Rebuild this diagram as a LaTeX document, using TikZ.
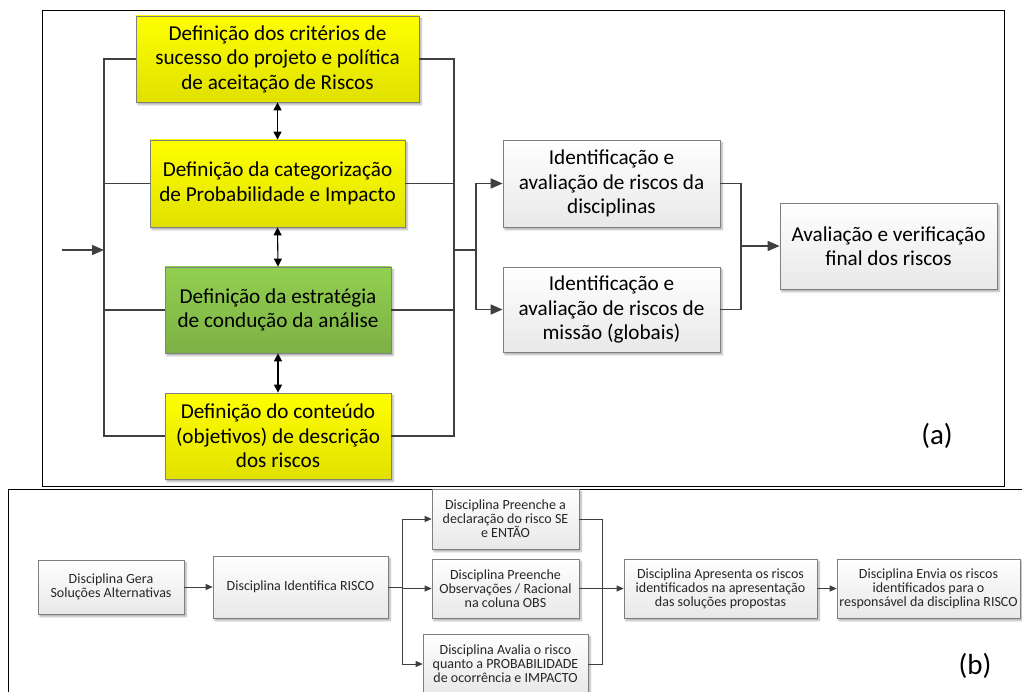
\documentclass[tikz,border=0pt]{standalone}
\usepackage{fontspec}
\setmainfont{Carlito}
\usetikzlibrary{arrows.meta,shadows.blur}

\definecolor{wiregray}{HTML}{404040}
\definecolor{boxline}{HTML}{7F7F7F}
\definecolor{leafgreen}{HTML}{92D050}

\tikzset{
  basebox/.style={draw=boxline, line width=0.8pt, align=center, inner sep=0pt,
    blur shadow={shadow xshift=2pt, shadow yshift=-2.5pt, shadow blur steps=4, shadow opacity=35}},
  ybox/.style={basebox, top color=yellow, bottom color=yellow!88!black,
    font=\fontsize{21.2}{24.5}\selectfont},
  gbox/.style={basebox, top color=leafgreen, bottom color=leafgreen!85!black,
    font=\fontsize{21.2}{24.5}\selectfont},
  wbox/.style={basebox, top color=white, bottom color=black!9,
    font=\fontsize{21.2}{24.5}\selectfont},
  sbox/.style={basebox, line width=0.6pt, top color=white, bottom color=black!9,
    text=black!85, font=\fontsize{14}{13.9}\selectfont},
  wire/.style={draw=wiregray, line width=1.6pt},
  thin wire/.style={draw=wiregray, line width=0.8pt},
  tip/.style={-{Triangle[length=12pt,width=10pt]}},
  small tip/.style={-{Triangle[length=7pt,width=6pt]}},
  both tip/.style={{Triangle[length=8pt,width=8pt]}-{Triangle[length=8pt,width=8pt]}, line width=1.1pt}
}

\begin{document}
\begin{tikzpicture}[x=1pt,y=-1pt]

\useasboundingbox (0,0) rectangle (1022,692);

% Panel (a) frame
\draw[line width=0.9pt] (42,10) rectangle (1004,486.5);
% Panel (b) frame
\draw[line width=0.9pt] (8,692) -- (8,489) -- (1030,489);

%% ----- panel (a) -----
\node[ybox, minimum width=283pt, minimum height=86pt] (crit) at (277.5,59)
  {Definição dos critérios de\\sucesso do projeto e política\\de aceitação de Riscos};
\node[ybox, minimum width=255pt, minimum height=87pt] (categ) at (277.5,183.5)
  {Definição da categorização\\de Probabilidade e Impacto};
\node[gbox, minimum width=226pt, minimum height=86pt] (estrat) at (278,310)
  {Definição da estratégia\\de condução da análise};
\node[ybox, minimum width=226pt, minimum height=86pt] (conteudo) at (278,436)
  {Definição do conteúdo\\(objetivos) de descrição\\dos riscos};

\node[wbox, minimum width=217pt, minimum height=87pt] (identdisc) at (611.5,183.5)
  {Identificação e\\avaliação de riscos da\\disciplinas};
\node[wbox, minimum width=217pt, minimum height=85pt] (identmis) at (611.5,309.5)
  {Identificação e\\avaliação de riscos de\\missão (globais)};
\node[wbox, minimum width=217pt, minimum height=86pt] (final) at (888.5,246)
  {Avaliação e verificação\\final dos riscos};

\node[font=\fontsize{29}{32}\selectfont] (laba) at (937,436) {(a)};

% buses
\coordinate (lbus) at (104,436);
\coordinate (rbus) at (454,436);
\coordinate (start) at (62,250);
\coordinate (junc) at (454,250);
\coordinate (fork) at (476,250);
\coordinate (merge) at (741,246);

\draw[wire] (crit.west) -| (lbus) -- (conteudo.west);
\draw[wire] (categ.west) -- (categ.west -| lbus);
\draw[wire] (estrat.west) -- (estrat.west -| lbus);
\draw[wire, tip] (start) -- (start -| lbus);

\draw[wire] (crit.east) -| (rbus) -- (conteudo.east);
\draw[wire] (categ.east) -- (categ.east -| rbus);
\draw[wire] (estrat.east) -- (estrat.east -| rbus);
\draw[wire] (junc) -- (fork);
\draw[wire, tip] (fork) |- (identdisc.west);
\draw[wire, tip] (fork) |- (identmis.west);

\draw[wire] (identdisc.east) -| (merge);
\draw[wire] (identmis.east) -| (merge);
\draw[wire, tip] (merge) -- (final.west);

\draw[both tip] (crit.south) -- (categ.north);
\draw[both tip] (categ.south) -- (estrat.north);
\draw[both tip] (estrat.south) -- (conteudo.north);

%% ----- panel (b) -----
\node[sbox, minimum width=146pt, minimum height=54pt] (gera) at (111,587)
  {Disciplina Gera\\Soluções Alternativas};
\node[sbox, minimum width=175pt, minimum height=62pt] (identrisco) at (300.5,587)
  {Disciplina Identifica RISCO};
\node[sbox, minimum width=147pt, minimum height=60pt] (preenche) at (505.5,519)
  {Disciplina Preenche a\\declaração do risco SE\\e ENTÃO};
\node[sbox, minimum width=147pt, minimum height=59pt] (obs) at (505.5,588.5)
  {Disciplina Preenche\\Observações / Racional\\na coluna OBS};
\node[sbox, minimum width=165pt, minimum height=60pt] (avalia) at (505.5,664)
  {Disciplina Avalia o risco\\quanto a PROBABILIDADE\\de ocorrência e IMPACTO};
\node[sbox, minimum width=193pt, minimum height=59pt] (apresenta) at (720.5,588.5)
  {Disciplina Apresenta os riscos\\identificados na apresentação\\das soluções propostas};
\node[sbox, minimum width=183pt, minimum height=59pt] (envia) at (928.5,588.5)
  {Disciplina Envia os riscos\\identificados para o\\responsável da disciplina RISCO};

\node[font=\fontsize{29}{32}\selectfont] (labb) at (975,666) {(b)};

\coordinate (split) at (402,587);
\coordinate (gather) at (602,587);

\draw[thin wire, small tip] (gera) -- (identrisco);
\draw[thin wire] (identrisco.east) -- (split);
\draw[thin wire, small tip] (split) |- (preenche.west);
\draw[thin wire, small tip] (split) -- (split |- obs.west) -- (obs.west);
\draw[thin wire, small tip] (split) |- (avalia.west);
\draw[thin wire] (preenche.east) -| (gather);
\draw[thin wire] (avalia.east) -| (gather);
\draw[thin wire, small tip] (obs.east) -- (apresenta.west);
\draw[thin wire, small tip] (apresenta) -- (envia);

\end{tikzpicture}
\end{document}
